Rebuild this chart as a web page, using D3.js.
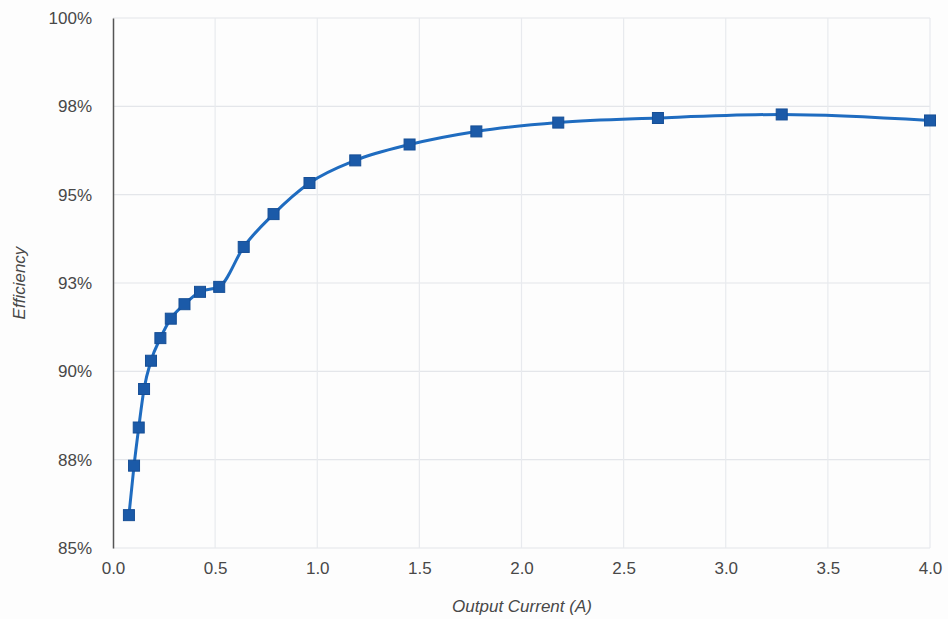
<!DOCTYPE html>
<html>
<head>
<meta charset="utf-8">
<script src="https://cdn.jsdelivr.net/npm/d3@7"></script>
<style>
  html, body { margin: 0; padding: 0; background: #fdfdfd; }
  svg { display: block; }
</style>
</head>
<body>
<svg id="chart" width="948" height="619"></svg>
<script>
// Data
const currents = [0.078, 0.103, 0.126, 0.152, 0.186, 0.232, 0.283, 0.35, 0.426, 0.52, 0.64, 0.786, 0.962, 1.186, 1.452, 1.779, 2.18, 2.668, 3.274, 4.0];
const efficiency = [85.93, 87.33, 88.41, 89.5, 90.3, 90.94, 91.49, 91.9, 92.25, 92.39, 93.52, 94.45, 95.33, 95.97, 96.42, 96.79, 97.04, 97.17, 97.27, 97.1];
const xTicks = [0, 0.5, 1.0, 1.5, 2.0, 2.5, 3.0, 3.5, 4.0];
const xTickLabels = ["0.0", "0.5", "1.0", "1.5", "2.0", "2.5", "3.0", "3.5", "4.0"];
const yTicks = [85, 87.5, 90, 92.5, 95, 97.5, 100];
const yTickLabels = ["85%", "88%", "90%", "93%", "95%", "98%", "100%"];
const xTitle = "Output Current (A)";
const yTitle = "Efficiency";

(function () {
const svg = d3.select("#chart");
const mL = 113, mR = 930, mT = 18, mB = 548;

const x = d3.scaleLinear().domain([0, 4]).range([mL, mR]);
const y = d3.scaleLinear().domain([85, 100]).range([mB, mT]);

const font = "'Liberation Sans', Arial, sans-serif";
const textColor = "#484848";

// Gridlines
svg.append("g")
  .selectAll("line")
  .data(yTicks)
  .join("line")
  .attr("x1", mL).attr("x2", mR)
  .attr("y1", d => y(d)).attr("y2", d => y(d))
  .attr("stroke", "#e4e6ea").attr("stroke-width", 1.2);

svg.append("g")
  .selectAll("line")
  .data(xTicks.slice(1))
  .join("line")
  .attr("x1", d => x(d)).attr("x2", d => x(d))
  .attr("y1", mT).attr("y2", mB)
  .attr("stroke", "#e8eaee").attr("stroke-width", 1.2);

// Axes
const xAxis = d3.axisBottom(x).tickValues(xTicks).tickSize(0).tickPadding(14)
  .tickFormat((d, i) => xTickLabels[i]);
const gx = svg.append("g").attr("transform", `translate(0,${mB})`).call(xAxis);
gx.select(".domain").remove();
gx.selectAll("text").attr("font-family", font).attr("font-size", 17).attr("fill", textColor);

const yAxis = d3.axisLeft(y).tickValues(yTicks).tickSize(0).tickPadding(21)
  .tickFormat((d, i) => yTickLabels[i]);
const gy = svg.append("g").attr("transform", `translate(${mL},0)`).call(yAxis);
gy.select(".domain").attr("stroke", "#555").attr("stroke-width", 1.5);
gy.selectAll("text").attr("font-family", font).attr("font-size", 17).attr("fill", textColor);

// Titles
svg.append("text")
  .attr("x", 522).attr("y", 612)
  .attr("text-anchor", "middle")
  .attr("font-family", font).attr("font-size", 17).attr("font-style", "italic")
  .attr("fill", textColor)
  .text(xTitle);

svg.append("text")
  .attr("transform", `translate(25,${(mT + mB) / 2}) rotate(-90)`)
  .attr("text-anchor", "middle")
  .attr("font-family", font).attr("font-size", 17).attr("font-style", "italic")
  .attr("fill", textColor)
  .text(yTitle);

// Line
const pts = currents.map((c, i) => [c, efficiency[i]]);
const line = d3.line().x(d => x(d[0])).y(d => y(d[1])).curve(d3.curveMonotoneX);
svg.append("path")
  .datum(pts)
  .attr("d", line)
  .attr("fill", "none")
  .attr("stroke", "#1f6cc0")
  .attr("stroke-width", 3);

// Markers
const ms = 11;
svg.append("g")
  .selectAll("rect")
  .data(pts)
  .join("rect")
  .attr("x", d => x(d[0]) - ms / 2)
  .attr("y", d => y(d[1]) - ms / 2)
  .attr("width", ms).attr("height", ms)
  .attr("fill", "#1b5aa8")
  .attr("stroke", "#174f96").attr("stroke-width", 1);
})();
</script>
</body>
</html>
